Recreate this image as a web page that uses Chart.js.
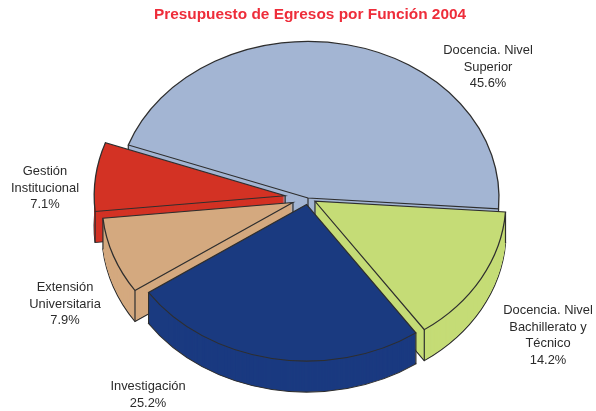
<!DOCTYPE html>
<html>
<head>
<meta charset="utf-8">
<script src="https://cdn.jsdelivr.net/npm/chart.js@4"></script>
<style>
  html, body { margin: 0; padding: 0; background: #fff; }
  canvas { display: block; }
</style>
</head>
<body>
<canvas id="pie" width="596" height="411"></canvas>
<script>
const categories = [
  ['Docencia. Nivel', 'Superior'],
  ['Docencia. Nivel', 'Bachillerato y', 'Técnico'],
  ['Investigación'],
  ['Extensión', 'Universitaria'],
  ['Gestión', 'Institucional']
];
const percents = [45.6, 14.2, 25.2, 7.9, 7.1];
const sliceColors = ['#a3b5d3', '#c5dc76', '#1a3a80', '#d4a97f', '#d33224'];
const explode = [0, 8, 8, 16, 23];
const drawOrder = [0, 4, 1, 3, 2];

// where each label block goes: center x, first baseline
const labelSpots = [[488, 54], [548, 314], [148, 390], [65, 291], [45, 175]];

// fake 3d: squash the circle and extrude it downward
const CX = 308, CY = 198, SQUASH = 0.82, DEPTH = 31;
const EDGE = '#2e2e2e';

const pie3d = {
  id: 'pie3d',
  beforeDatasetDraw(chart) {
    const ctx = chart.ctx;
    const arcs = chart.getDatasetMeta(0).data;

    const face = (arc, i, down, flat) => {
      const mid = (arc.startAngle + arc.endAngle) / 2;
      const saved = arc.options;
      if (flat) arc.options = Object.create(saved, { borderWidth: { value: 0 } });
      ctx.save();
      ctx.translate(CX, CY + down);
      ctx.scale(1, SQUASH);
      ctx.translate(Math.cos(mid) * explode[i] - arc.x, Math.sin(mid) * explode[i] - arc.y);
      arc.draw(ctx);
      ctx.restore();
      arc.options = saved;
    };

    drawOrder.forEach(i => {
      const arc = arcs[i];
      const mid = (arc.startAngle + arc.endAngle) / 2;
      const ex = Math.cos(mid) * explode[i];
      const ey = Math.sin(mid) * explode[i];

      face(arc, i, DEPTH, false);
      for (let d = DEPTH - 1; d > 0; d--) face(arc, i, d, true);

      // vertical edges at apex and both corners
      const r = arc.outerRadius;
      const pts = [[0, 0],
        [r * Math.cos(arc.startAngle), r * Math.sin(arc.startAngle)],
        [r * Math.cos(arc.endAngle), r * Math.sin(arc.endAngle)]];
      ctx.save();
      ctx.strokeStyle = EDGE;
      ctx.lineWidth = 1.2;
      pts.forEach(p => {
        const x = CX + ex + p[0];
        const y = CY + SQUASH * (ey + p[1]);
        ctx.beginPath();
        ctx.moveTo(x, y);
        ctx.lineTo(x, y + DEPTH);
        ctx.stroke();
      });
      ctx.restore();

      face(arc, i, 0, false);
    });
    return false;
  },
  afterDraw(chart) {
    const ctx = chart.ctx;
    ctx.save();
    ctx.font = '12.9px "Liberation Sans", Arial, sans-serif';
    ctx.fillStyle = '#2b2b2b';
    ctx.textAlign = 'center';
    categories.forEach((lines, i) => {
      const all = lines.concat(percents[i].toFixed(1) + '%');
      all.forEach((t, k) => ctx.fillText(t, labelSpots[i][0], labelSpots[i][1] + k * 16.6));
    });
    ctx.restore();
  }
};

new Chart(document.getElementById('pie'), {
  type: 'pie',
  data: {
    labels: categories.map(c => c.join(' ')),
    datasets: [{
      data: percents,
      backgroundColor: sliceColors,
      borderColor: EDGE,
      borderWidth: 1.3,
      borderJoinStyle: 'miter',
      radius: 191
    }]
  },
  plugins: [pie3d],
  options: {
    responsive: false,
    animation: false,
    events: [],
    rotation: -70.2,
    layout: { padding: { left: 24 } },
    plugins: {
      legend: { display: false },
      tooltip: { enabled: false },
      title: {
        display: true,
        text: 'Presupuesto de Egresos por Función 2004',
        color: '#ee2d3a',
        font: { family: '"Liberation Sans", Arial, sans-serif', size: 15.4, weight: 'bold' },
        padding: { top: 6, bottom: 2 }
      }
    }
  }
});
</script>
</body>
</html>
